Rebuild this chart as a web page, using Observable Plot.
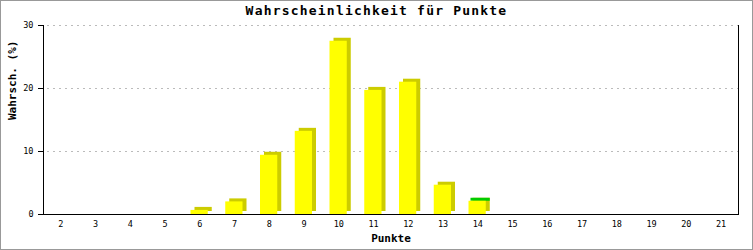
<!DOCTYPE html>
<html>
<head>
<meta charset="utf-8">
<script src="https://cdn.jsdelivr.net/npm/d3@7"></script>
<script src="https://cdn.jsdelivr.net/npm/@observablehq/plot@0.6"></script>
<style>
  html, body { margin: 0; padding: 0; background: #fff; }
  #wrap { position: relative; width: 753px; height: 250px; overflow: hidden; }
  #wrap svg { position: absolute; left: 0; top: 0; }
  #border { position: absolute; left: 0; top: 0; width: 753px; height: 250px; box-sizing: border-box; border: 1px solid #999; pointer-events: none; }
  #title { position: absolute; left: 0; width: 753px; top: 3px; text-align: center; font: bold 13px "DejaVu Sans Mono", monospace; letter-spacing: 1.2px; color: #000; }
</style>
</head>
<body>
<div id="wrap">
  <div id="title">Wahrscheinlichkeit für Punkte</div>
  <div id="border"></div>
</div>
<script>
const titleText = "Wahrscheinlichkeit für Punkte";
const xLabel = "Punkte";
const yLabel = "Wahrsch. (%)";
const points = [2, 3, 4, 5, 6, 7, 8, 9, 10, 11, 12, 13, 14, 15, 16, 17, 18, 19, 20, 21];
const values = [0, 0, 0, 0, 0.65, 2.0, 9.4, 13.2, 27.5, 19.7, 21.0, 4.65, 2.1, 0, 0, 0, 0, 0, 0, 0];
const highlighted = [14];
const yTicks = [0, 10, 20, 30];

const data = points.map((p, i) => ({p, v: values[i]}));
const bars = data.filter(d => d.v > 0);
const hl = bars.filter(d => highlighted.includes(d.p));

const bl = 8.5, br = 9; // bar insets within each band

const chart = Plot.plot({
  width: 753,
  height: 250,
  marginTop: 25,
  marginBottom: 36,
  marginLeft: 43,
  marginRight: 15,
  style: {fontFamily: "'DejaVu Sans Mono', monospace", fontSize: "8.5px", color: "#000", background: "transparent"},
  x: {type: "band", domain: points, padding: 0, round: false},
  y: {domain: [0, 30]},
  marks: [
    Plot.gridY(yTicks, {stroke: "#bbb", strokeOpacity: 1, strokeDasharray: "2,4", insetLeft: 4}),
    Plot.barY(bars, {x: "p", y: "v", fill: "#cccc00", dx: 4, dy: -3, insetLeft: bl, insetRight: br}),
    Plot.barY(hl, {x: "p", y1: "v", y2: "v", insetTop: -3, insetLeft: bl - 2, insetRight: br, dx: 4, fill: "#00cc00"}),
    Plot.barY(bars, {x: "p", y: "v", fill: "#ffff00", insetLeft: bl, insetRight: br}),
    Plot.ruleY([0], {stroke: "#000", insetLeft: -5}),
    Plot.frame({anchor: "left", stroke: "#000"}),
    Plot.frame({anchor: "right", stroke: "#000"}),
    Plot.axisY({ticks: yTicks, tickSize: 5, tickPadding: 5, label: null, tickFormat: d => String(d)}),
    Plot.axisX({tickSize: 0, tickPadding: 6, label: null}),
    Plot.text([xLabel], {frameAnchor: "bottom", dy: 27, text: d => d, fontSize: 11, fontWeight: "bold"}),
    Plot.text([yLabel], {frameAnchor: "left", dx: -31, rotate: -90, text: d => d, fontSize: 11, fontWeight: "bold"})
  ]
});
document.getElementById("wrap").insertBefore(chart, document.getElementById("title"));
</script>
</body>
</html>
